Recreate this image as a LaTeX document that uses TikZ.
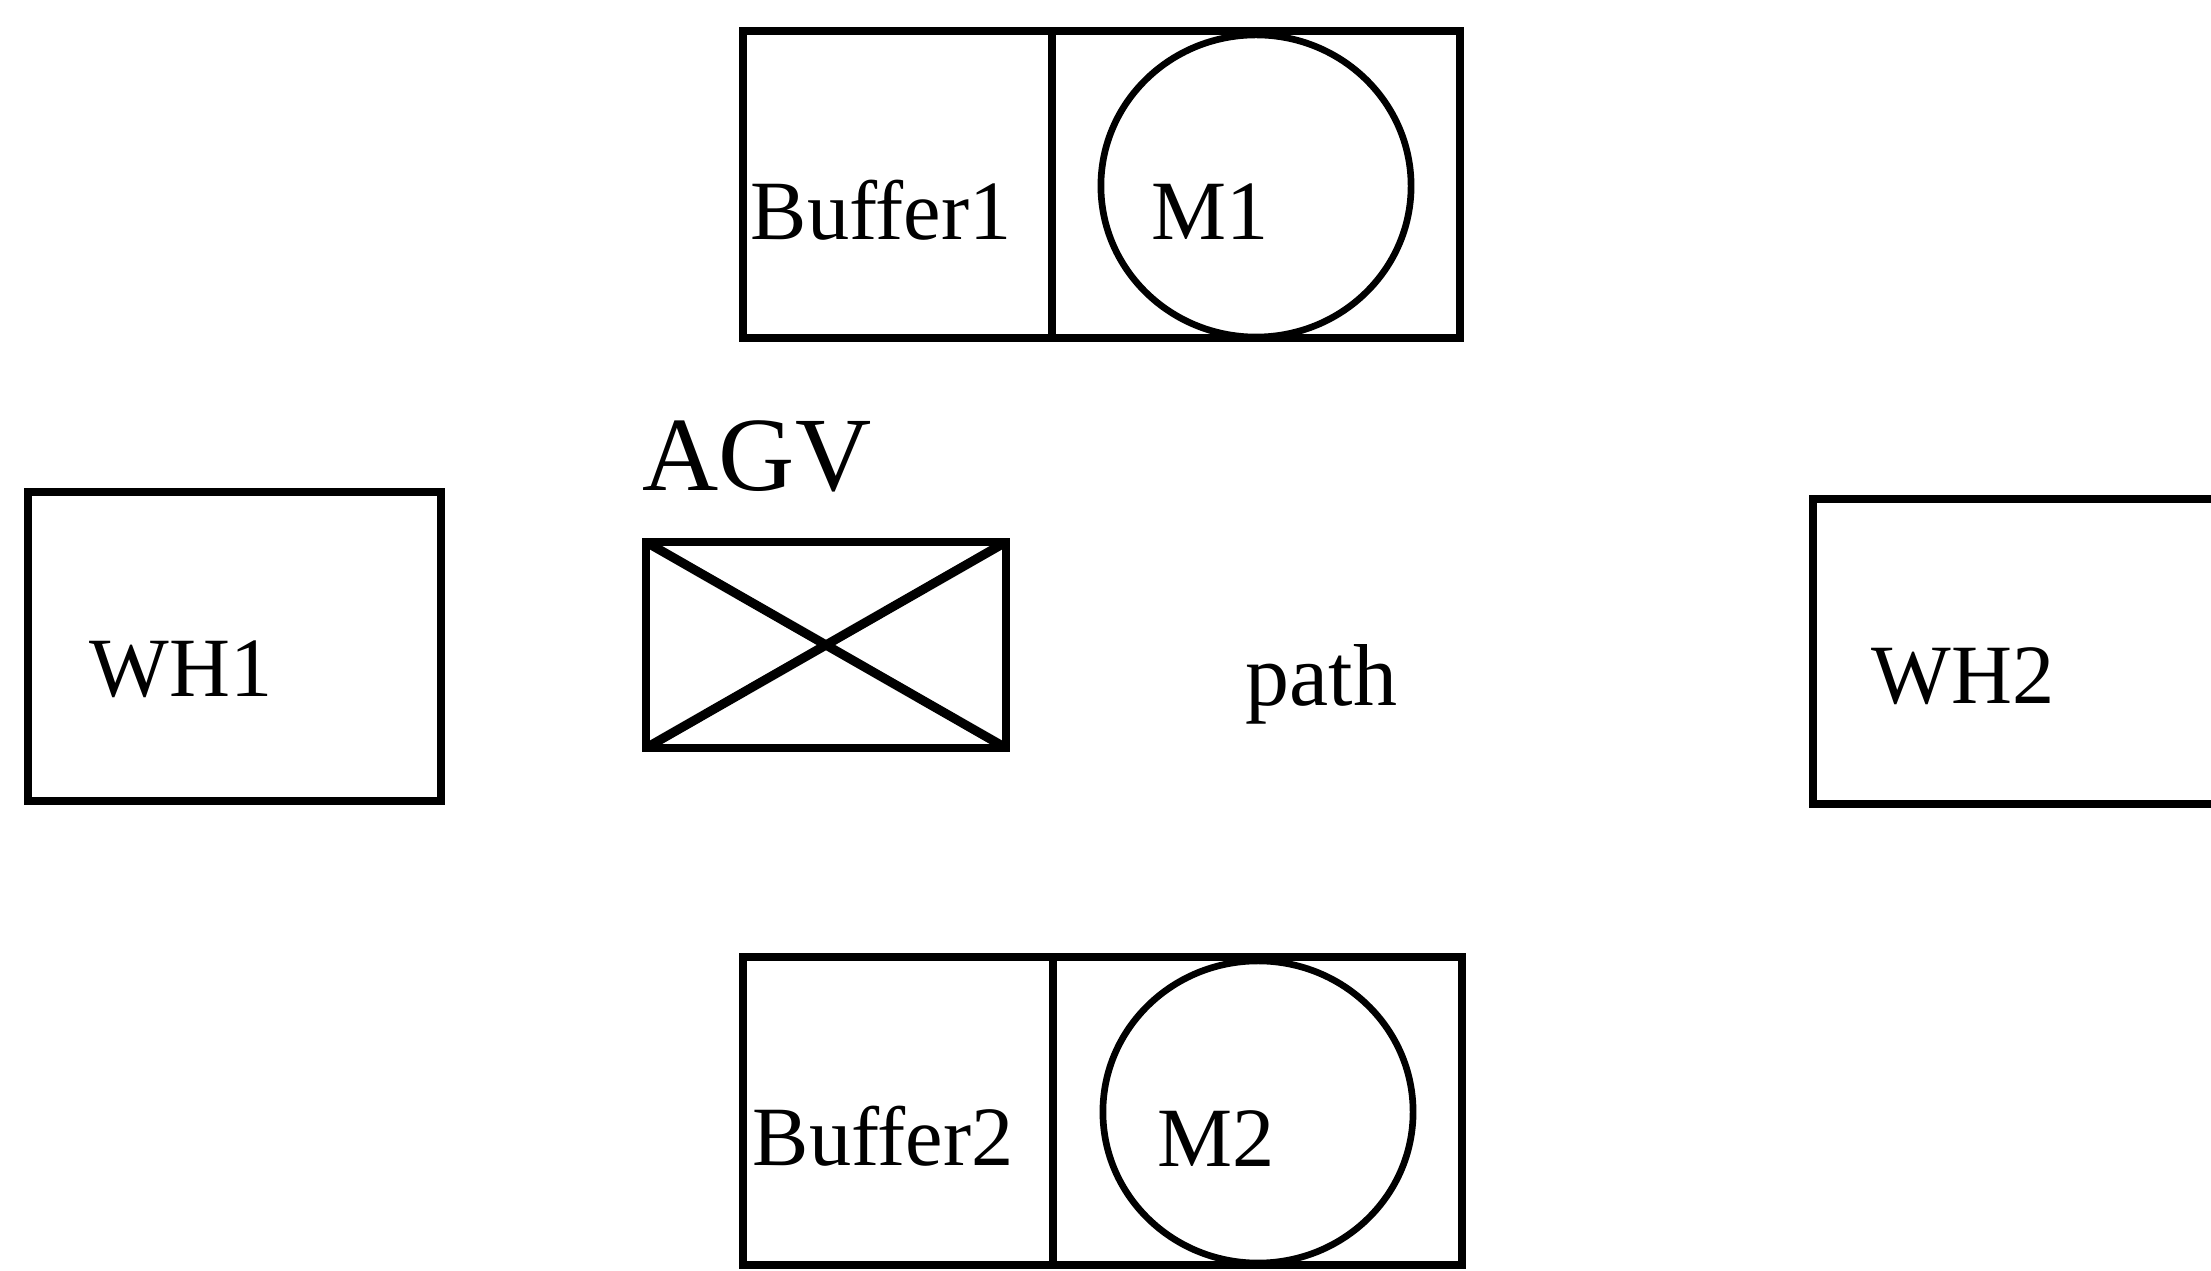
\documentclass[tikz,border=0pt]{standalone}
\usepackage{fontspec}
\setmainfont{Liberation Serif}
\usetikzlibrary{shapes.geometric}
\begin{document}
\begin{tikzpicture}[x=0.01cm,y=-0.01cm,
  boxline/.style={draw=black,line width=2.1pt},
  lbl/.style={inner sep=0pt,anchor=base west,font=\fontsize{24}{28}\selectfont},
  mach/.style={draw=black,line width=1.9pt,ellipse,inner sep=0pt,minimum width=3.1cm,minimum height=3.02cm}]
\useasboundingbox (0,0) rectangle (2211,1271);
\fill[white] (0,0) rectangle (2211,1271);
% top station
\draw[boxline] (743,31) rectangle (1460,338);
\draw[boxline] (1052,31) -- (1052,338);
\node[mach] (m1c) at (1256,186) {};
\node[lbl] (buf1) at (750,240) {Buffer1};
\node[lbl] (m1) at (1151,240) {M1};
% bottom station
\draw[boxline] (743,957) rectangle (1462,1265);
\draw[boxline] (1053,957) -- (1053,1265);
\node[mach] (m2c) at (1258,1112) {};
\node[lbl] (buf2) at (752,1166) {Buffer2};
\node[lbl] (m2) at (1157,1167) {M2};
% warehouses
\draw[boxline] (28,492) rectangle (441,801);
\node[lbl] (wh1) at (89,697) {WH1};
\draw[boxline] (1813,499) rectangle (2240,804);
\node[lbl] (wh2) at (1871,704) {WH2};
% AGV
\draw[boxline] (646,542) rectangle (1006,748);
\draw[line width=2.6pt] (646,542) -- (1006,748);
\draw[line width=2.6pt] (646,748) -- (1006,542);
\node[inner sep=0pt,anchor=base west,font=\fontsize{30}{34}\selectfont] (agv) at (642,491) {AGV};
% path label
\node[inner sep=0pt,anchor=base west,font=\fontsize{25}{29}\selectfont] (path) at (1245,706) {path};
\end{tikzpicture}
\end{document}
